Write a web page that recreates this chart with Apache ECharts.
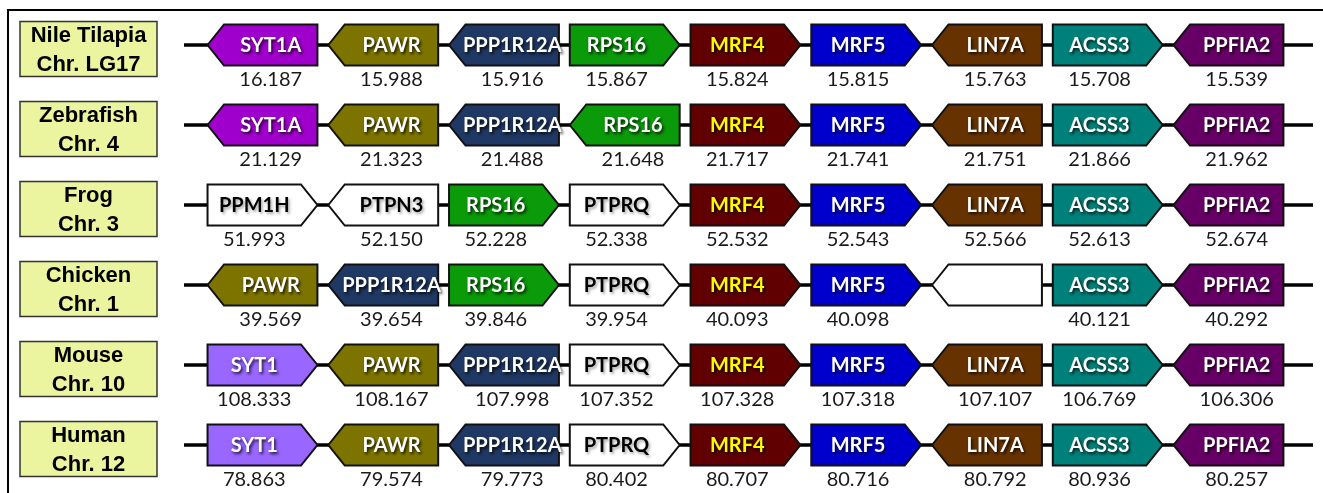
<!DOCTYPE html>
<html>
<head>
<meta charset="utf-8">
<script src="https://cdn.jsdelivr.net/npm/echarts@6/dist/echarts.min.js"></script>
<style>
  html, body { margin: 0; padding: 0; background: #fff; }
  #chart { width: 1323px; height: 493px; }
</style>
</head>
<body>
<div id="chart"></div>
<script>
// Species tracks, top to bottom
const species = ['Nile Tilapia', 'Zebrafish', 'Frog', 'Chicken', 'Mouse', 'Human'];
const chromosomes = ['Chr. LG17', 'Chr. 4', 'Chr. 3', 'Chr. 1', 'Chr. 10', 'Chr. 12'];

// Gene order per track; strand: 1 = forward (points right), -1 = reverse (points left)
// Positions are chromosome coordinates in Mb
const tilapiaGenes  = ['SYT1A', 'PAWR', 'PPP1R12A', 'RPS16', 'MRF4', 'MRF5', 'LIN7A', 'ACSS3', 'PPFIA2'];
const tilapiaStrand = [-1, -1, -1, 1, 1, 1, -1, 1, -1];
const tilapiaMb     = ['16.187', '15.988', '15.916', '15.867', '15.824', '15.815', '15.763', '15.708', '15.539'];

const zebrafishGenes  = ['SYT1A', 'PAWR', 'PPP1R12A', 'RPS16', 'MRF4', 'MRF5', 'LIN7A', 'ACSS3', 'PPFIA2'];
const zebrafishStrand = [-1, -1, -1, -1, 1, 1, -1, 1, -1];
const zebrafishMb     = ['21.129', '21.323', '21.488', '21.648', '21.717', '21.741', '21.751', '21.866', '21.962'];

const frogGenes  = ['PPM1H', 'PTPN3', 'RPS16', 'PTPRQ', 'MRF4', 'MRF5', 'LIN7A', 'ACSS3', 'PPFIA2'];
const frogStrand = [1, -1, 1, 1, 1, 1, -1, 1, -1];
const frogMb     = ['51.993', '52.150', '52.228', '52.338', '52.532', '52.543', '52.566', '52.613', '52.674'];

const chickenGenes  = ['PAWR', 'PPP1R12A', 'RPS16', 'PTPRQ', 'MRF4', 'MRF5', '', 'ACSS3', 'PPFIA2'];
const chickenStrand = [-1, -1, 1, 1, 1, 1, -1, 1, -1];
const chickenMb     = ['39.569', '39.654', '39.846', '39.954', '40.093', '40.098', '', '40.121', '40.292'];

const mouseGenes  = ['SYT1', 'PAWR', 'PPP1R12A', 'PTPRQ', 'MRF4', 'MRF5', 'LIN7A', 'ACSS3', 'PPFIA2'];
const mouseStrand = [1, -1, -1, 1, 1, 1, -1, 1, -1];
const mouseMb     = ['108.333', '108.167', '107.998', '107.352', '107.328', '107.318', '107.107', '106.769', '106.306'];

const humanGenes  = ['SYT1', 'PAWR', 'PPP1R12A', 'PTPRQ', 'MRF4', 'MRF5', 'LIN7A', 'ACSS3', 'PPFIA2'];
const humanStrand = [1, -1, -1, 1, 1, 1, -1, 1, -1];
const humanMb     = ['78.863', '79.574', '79.773', '80.402', '80.707', '80.716', '80.792', '80.936', '80.257'];

const trackGenes   = [tilapiaGenes, zebrafishGenes, frogGenes, chickenGenes, mouseGenes, humanGenes];
const trackStrands = [tilapiaStrand, zebrafishStrand, frogStrand, chickenStrand, mouseStrand, humanStrand];
const trackMb      = [tilapiaMb, zebrafishMb, frogMb, chickenMb, mouseMb, humanMb];

// Gene colour key (genes not listed are drawn white)
const geneFill = {
  SYT1A: '#a000cc', SYT1: '#9966ff', PAWR: '#7d7400', PPP1R12A: '#1f3864',
  RPS16: '#0a9a0a', MRF4: '#600000', MRF5: '#0000cc', LIN7A: '#663300',
  ACSS3: '#00807a', PPFIA2: '#660066'
};
function fillOf(name) { return geneFill[name] || '#ffffff'; }
function textColorOf(name) {
  if (name === 'MRF4') return '#ffff00';
  return geneFill[name] ? '#ffffff' : '#000000';
}

// Flat gene list for the custom series
const geneList = [];
trackGenes.forEach((genes, row) => {
  genes.forEach((name, col) => {
    geneList.push({ col, row, name, strand: trackStrands[row][col], mb: trackMb[row][col] });
  });
});

function renderTrack(params, api) {
  const row = api.value(1);
  const cs = params.coordSys;
  const cy = api.coord([0, row])[1];
  const boxY = cy + 4;
  return {
    type: 'group',
    children: [
      {
        type: 'line',
        shape: { x1: cs.x, y1: cy, x2: cs.x + cs.width, y2: cy },
        style: { stroke: '#000', lineWidth: 3.5 }
      },
      {
        type: 'rect',
        shape: { x: cs.x - 164, y: boxY - 27.5, width: 137, height: 55 },
        style: { fill: '#ebf5a0', stroke: '#333', lineWidth: 1.5 }
      },
      {
        type: 'text',
        style: {
          text: species[row] + '\n' + chromosomes[row],
          x: cs.x - 164 + 68.5, y: boxY + 1,
          align: 'center', verticalAlign: 'middle',
          fontFamily: 'Liberation Sans', fontWeight: 'bold', fontSize: 22,
          lineHeight: 29, fill: '#000'
        }
      }
    ]
  };
}

function renderGene(params, api) {
  const g = geneList[params.dataIndex];
  const c = api.coord([api.value(0), api.value(1)]);
  const slot = api.size([1, 0])[0];
  const band = api.size([0, 1])[1];
  const w = slot * 0.91, h = band * 0.515, tip = h * 0.4;
  const x0 = c[0] - w / 2, x1 = c[0] + w / 2;
  const yt = c[1] - h / 2, yb = c[1] + h / 2;
  let pts, mid;
  if (g.strand > 0) {
    pts = [[x0, yt], [x1 - tip, yt], [x1, c[1]], [x1 - tip, yb], [x0, yb]];
    mid = (x0 + x1 - tip) / 2;
  } else {
    pts = [[x0, c[1]], [x0 + tip, yt], [x1, yt], [x1, yb], [x0 + tip, yb]];
    mid = (x0 + tip + x1) / 2;
  }
  const white = !geneFill[g.name];
  const children = [
    {
      type: 'polygon',
      shape: { points: pts },
      style: { fill: fillOf(g.name), stroke: '#111', lineWidth: 2 }
    }
  ];
  if (g.name) {
    children.push({
      type: 'text',
      style: {
        text: g.name, x: mid, y: c[1] + 1,
        align: 'center', verticalAlign: 'middle',
        fontFamily: 'Lato', fontWeight: 'bold', fontSize: 20,
        fill: textColorOf(g.name),
        textShadowColor: white ? 'rgba(0,0,0,0.35)' : 'rgba(0,0,0,0.8)',
        textShadowBlur: 3, textShadowOffsetX: 1.5, textShadowOffsetY: 1.5
      }
    });
  }
  if (g.mb) {
    children.push({
      type: 'text',
      style: {
        text: g.mb, x: mid, y: c[1] + h * 0.83,
        align: 'center', verticalAlign: 'middle',
        fontFamily: 'Lato', fontSize: 20, fill: '#1a1a1a'
      }
    });
  }
  return { type: 'group', children };
}

const chart = echarts.init(document.getElementById('chart'), null, { renderer: 'canvas' });
chart.setOption({
  animation: false,
  backgroundColor: '#ffffff',
  grid: { left: 184, right: 10, top: 5, bottom: 8 },
  xAxis: { type: 'value', min: -0.65, max: 8.7, show: false },
  yAxis: { type: 'category', data: species, inverse: true, show: false },
  graphic: [
    { type: 'line', shape: { x1: 7, y1: 10, x2: 1323, y2: 10 }, style: { stroke: '#000', lineWidth: 2 } },
    { type: 'line', shape: { x1: 8, y1: 10, x2: 8, y2: 493 }, style: { stroke: '#000', lineWidth: 2 } }
  ],
  series: [
    {
      type: 'custom',
      clip: false,
      z: 1,
      renderItem: renderTrack,
      data: species.map((s, i) => [0, i])
    },
    {
      type: 'custom',
      clip: false,
      z: 2,
      renderItem: renderGene,
      data: geneList.map(g => [g.col, g.row])
    }
  ]
});
</script>
</body>
</html>
